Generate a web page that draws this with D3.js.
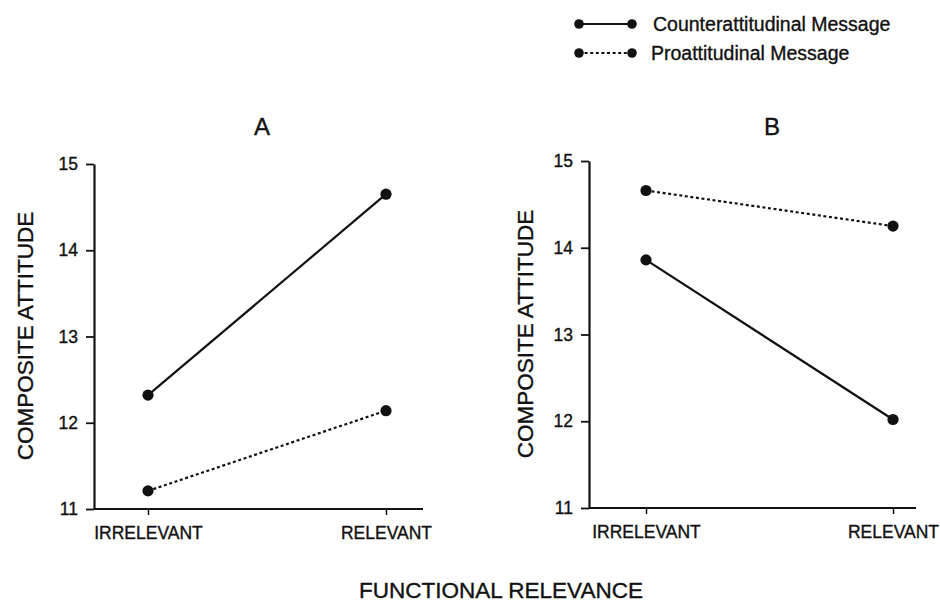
<!DOCTYPE html>
<html>
<head>
<meta charset="utf-8">
<script src="https://cdn.jsdelivr.net/npm/d3@7"></script>
<style>
  body { margin: 0; background: #fff; }
  svg { display: block; font-family: "Liberation Sans", Arial, Helvetica, sans-serif; }
  svg text { stroke: #111; stroke-width: 0.35px; }
</style>
</head>
<body>
<div class="drawingArea"></div>
<script>
var width = 940;
var height = 603;

// Data
var categories = ["IRRELEVANT", "RELEVANT"];
var yTicks = [11, 12, 13, 14, 15];
var seriesNames = ["Counterattitudinal Message", "Proattitudinal Message"];
var panelA_counter = [12.32, 14.65];
var panelA_pro = [11.21, 12.14];
var panelB_counter = [13.86, 12.02];
var panelB_pro = [14.66, 14.25];

var ink = "#111";

// Layout of each panel
var panels = [
    { title: "A", counter: panelA_counter, pro: panelA_pro,
      axisX: 94, axisRight: 423, catRange: [148, 386], yRange: [509, 164],
      titleX: 262, labelX: 25, labelY: 336 },
    { title: "B", counter: panelB_counter, pro: panelB_pro,
      axisX: 589, axisRight: 916, catRange: [646, 893], yRange: [508, 161],
      titleX: 772, labelX: 525, labelY: 334 }
];

var svg = d3.select(".drawingArea").append("svg:svg")
    .attr("width", width)
    .attr("height", height);

panels.forEach(function (p) {
    var x = d3.scalePoint().domain(categories).range(p.catRange);
    var y = d3.scaleLinear().domain([11, 15]).range(p.yRange);
    var g = svg.append("g");

    //Y axis
    var yAxis = g.append("g")
        .attr("transform", "translate(" + p.axisX + ",0)")
        .call(d3.axisLeft(y).tickValues(yTicks).tickFormat(d3.format("d"))
            .tickSize(8).tickSizeOuter(0).tickPadding(8));
    yAxis.select(".domain").attr("stroke", ink).attr("stroke-width", 2.2);
    yAxis.selectAll(".tick line").attr("stroke", ink).attr("stroke-width", 1.8);
    yAxis.selectAll(".tick text")
        .attr("fill", ink)
        .style("font-size", "17.5px")
        .style("font-family", "Liberation Sans, Arial, sans-serif");

    //X axis
    var xAxis = g.append("g")
        .attr("transform", "translate(0," + p.yRange[0] + ")")
        .call(d3.axisBottom(x).tickSize(6).tickSizeOuter(0).tickPadding(12));
    xAxis.select(".domain")
        .attr("d", "M" + p.axisX + ",0H" + p.axisRight)
        .attr("stroke", ink).attr("stroke-width", 2);
    xAxis.selectAll(".tick line").attr("stroke", ink).attr("stroke-width", 1.5);
    xAxis.selectAll(".tick text")
        .attr("fill", ink)
        .style("font-size", "17.5px")
        .style("font-family", "Liberation Sans, Arial, sans-serif");

    //Panel title
    g.append("text")
        .attr("x", p.titleX)
        .attr("y", 135)
        .attr("text-anchor", "middle")
        .attr("fill", ink)
        .style("font-size", "24px")
        .text(p.title);

    //Y axis title
    g.append("text")
        .attr("transform", "translate(" + (p.labelX + 8) + "," + p.labelY + ") rotate(-90)")
        .attr("text-anchor", "middle")
        .attr("fill", ink)
        .style("font-size", "22.5px")
        .text("COMPOSITE ATTITUDE");

    var line = d3.line()
        .x(function (d, i) { return x(categories[i]); })
        .y(function (d) { return y(d); });

    var series = [
        { values: p.counter, dash: null },
        { values: p.pro, dash: "3,2.6" }
    ];

    series.forEach(function (s) {
        g.append("path")
            .datum(s.values)
            .attr("d", line)
            .attr("fill", "none")
            .attr("stroke", ink)
            .attr("stroke-width", 2.2)
            .attr("stroke-dasharray", s.dash);

        g.selectAll(null)
            .data(s.values)
            .enter()
            .append("circle")
            .attr("cx", function (d, i) { return x(categories[i]); })
            .attr("cy", function (d) { return y(d); })
            .attr("r", 5.6)
            .attr("fill", ink);
    });
});

//Shared x title
svg.append("text")
    .attr("x", 501)
    .attr("y", 598)
    .attr("text-anchor", "middle")
    .attr("fill", ink)
    .style("font-size", "22.5px")
    .text("FUNCTIONAL RELEVANCE");

//Legend
var legendRows = [
    { name: seriesNames[0], dash: null, y: 24, textX: 653 },
    { name: seriesNames[1], dash: "3,2.6", y: 53, textX: 651 }
];
var legend = svg.append("g");
legendRows.forEach(function (r) {
    legend.append("line")
        .attr("x1", 579).attr("x2", 632)
        .attr("y1", r.y).attr("y2", r.y)
        .attr("stroke", ink)
        .attr("stroke-width", 2.2)
        .attr("stroke-dasharray", r.dash);
    [579, 632].forEach(function (cx) {
        legend.append("circle")
            .attr("cx", cx).attr("cy", r.y)
            .attr("r", 4.8)
            .attr("fill", ink);
    });
    legend.append("text")
        .attr("x", r.textX)
        .attr("y", r.y + 6.5)
        .attr("fill", ink)
        .style("font-size", "19.5px")
        .text(r.name);
});
</script>
</body>
</html>
